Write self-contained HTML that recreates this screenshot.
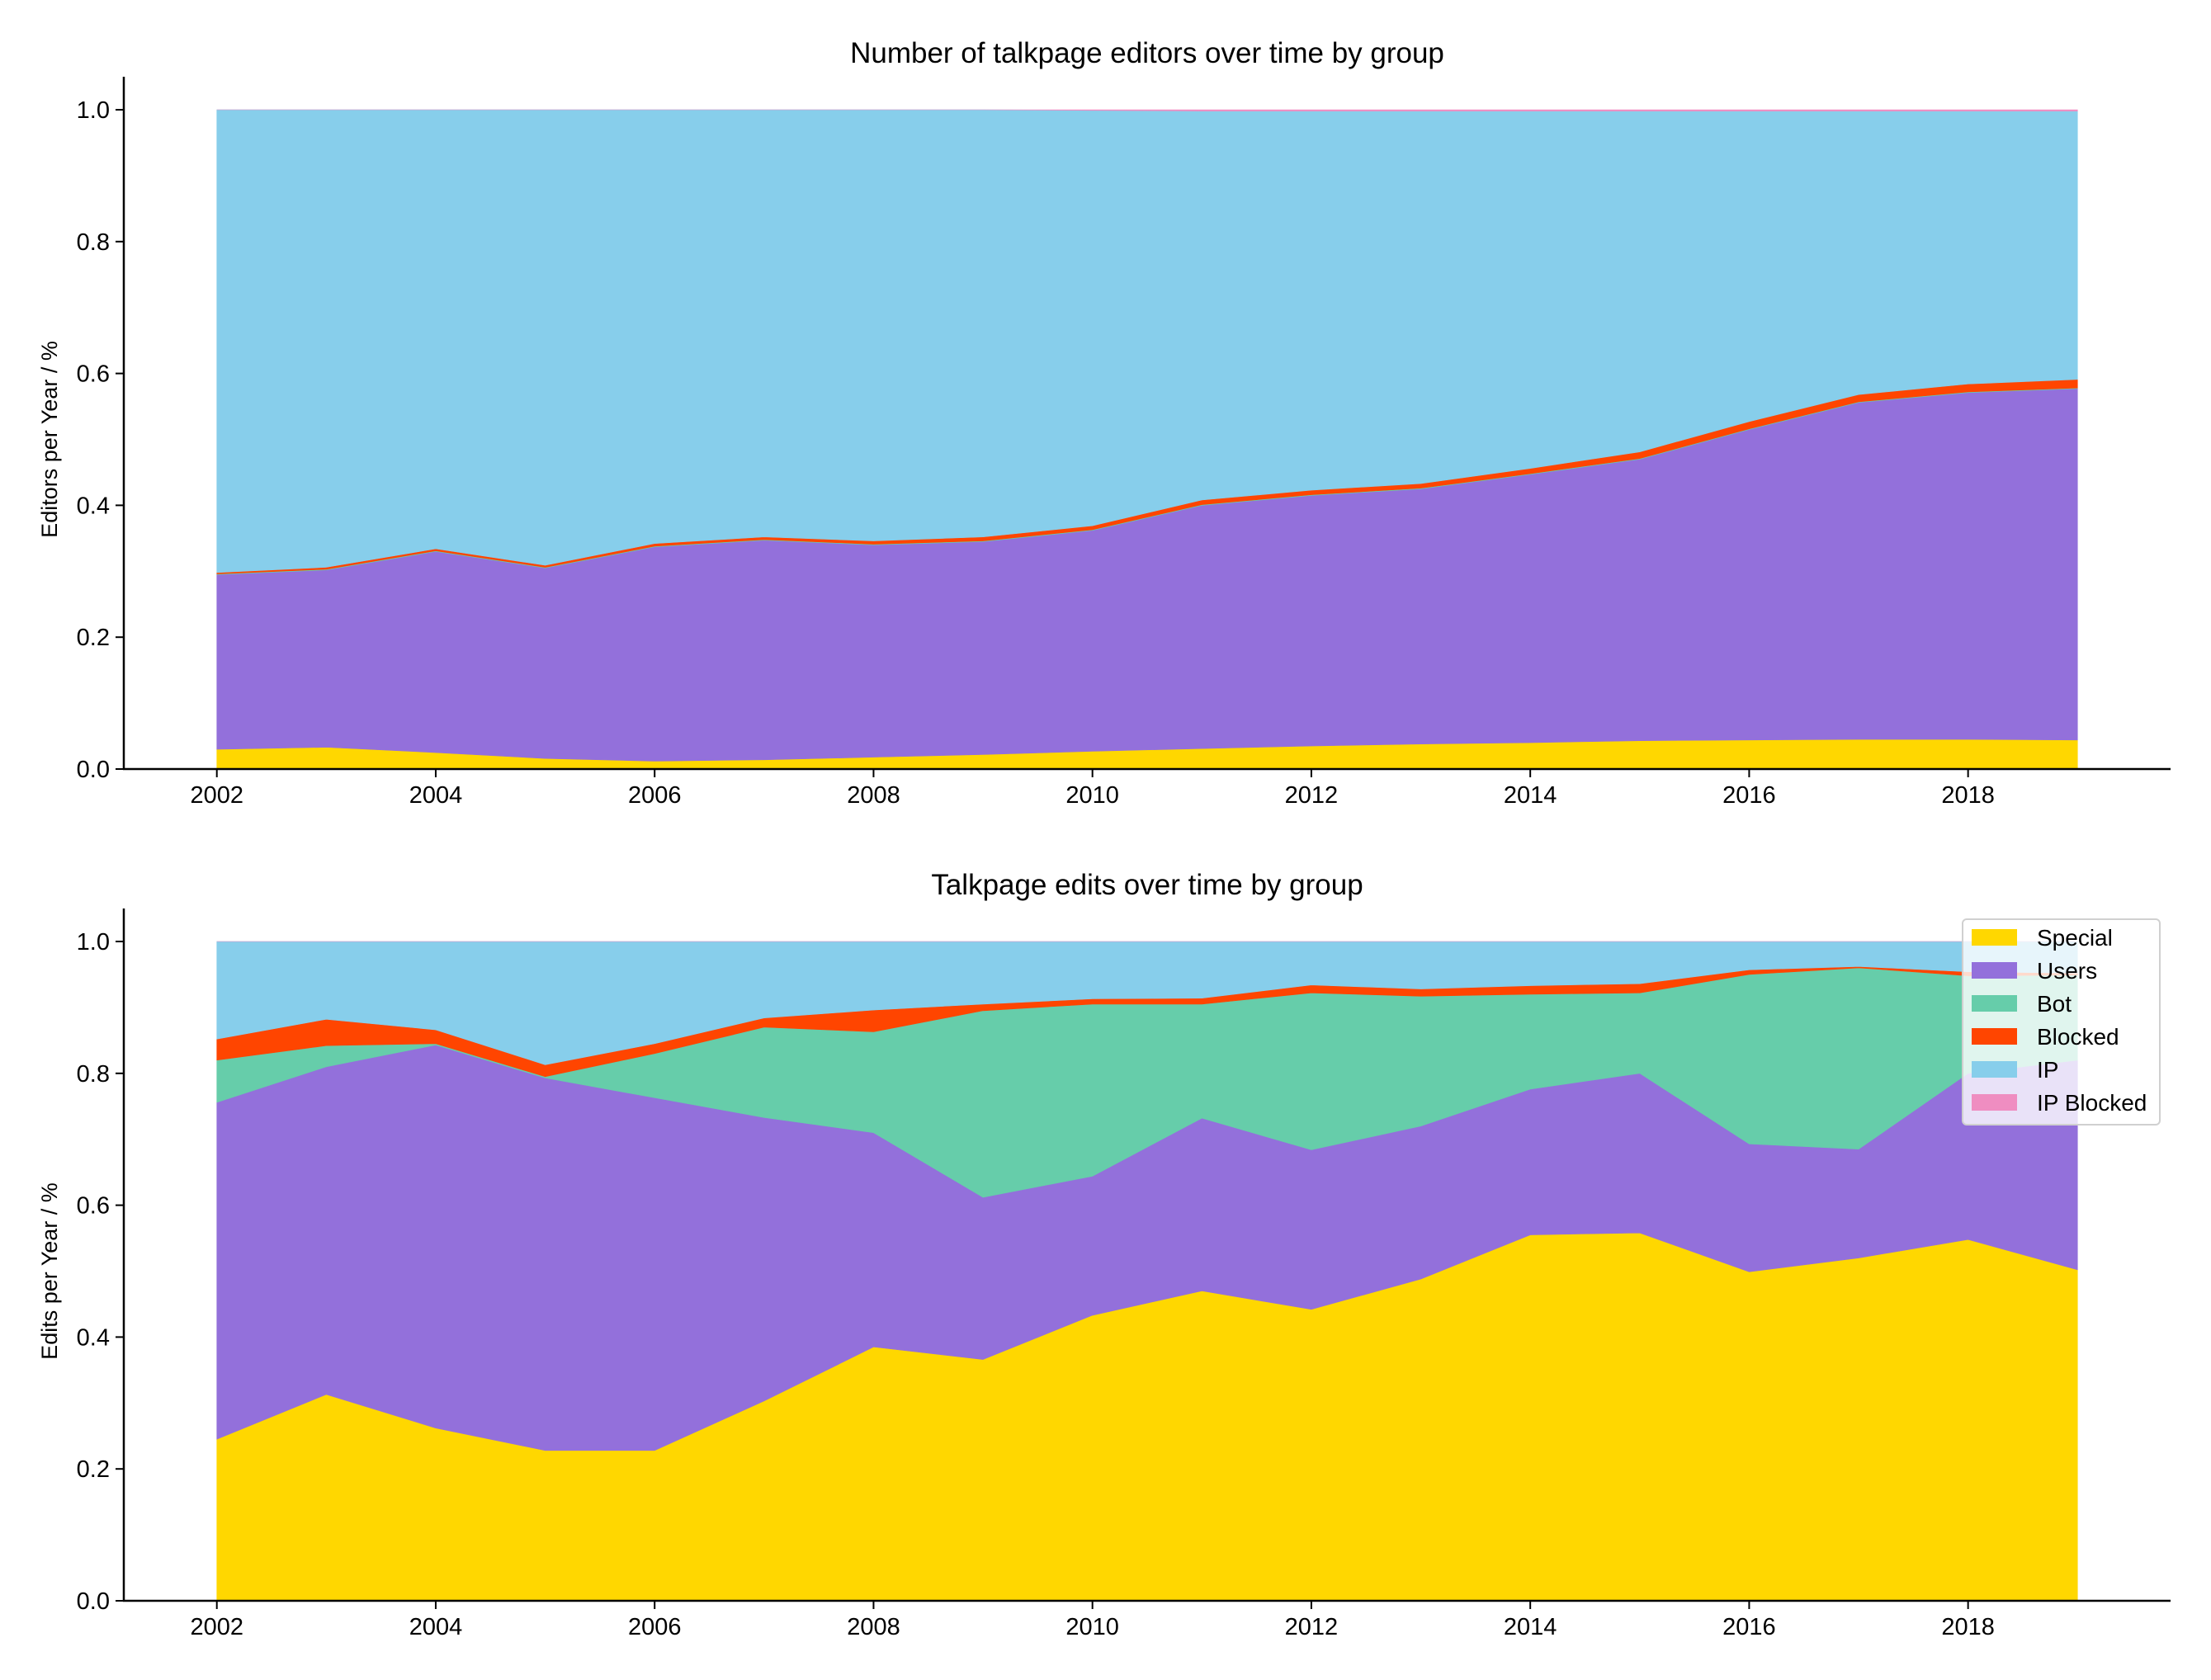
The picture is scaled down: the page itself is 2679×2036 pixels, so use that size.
<!DOCTYPE html>
<html><head><meta charset="utf-8"><style>
html,body{margin:0;padding:0;background:#fff;}
svg{display:block;font-family:"Liberation Sans",sans-serif;}
</style></head><body>
<svg id="chart" width="2679" height="2036" viewBox="0 0 2679 2036" xmlns="http://www.w3.org/2000/svg"></svg>
<script>
const years = [2002,2003,2004,2005,2006,2007,2008,2009,2010,2011,2012,2013,2014,2015,2016,2017,2018,2019];
const seriesNames = ["Special","Users","Bot","Blocked","IP","IP Blocked"];
const seriesColors = ["#FFD700","#9370DB","#66CDAA","#FF4500","#87CEEB","#EF8DC1"];
const yTicks = [0,0.2,0.4,0.6,0.8,1.0];
const xTicks = [2002,2004,2006,2008,2010,2012,2014,2016,2018];

// Top chart: editors share
const editorsSpecial = [.030,.033,.025,.016,.012,.014,.018,.022,.027,.031,.035,.038,.040,.043,.044,.045,.045,.044];
const editorsUsers = [.265,.269,.305,.289,.325,.333,.322,.323,.335,.369,.380,.387,.407,.427,.471,.511,.526,.533];
const editorsBot = [.001,.001,.001,.001,.001,.001,.001,.001,.001,.001,.001,.001,.001,.001,.001,.001,.001,.001];
const editorsBlocked = [.002,.003,.003,.003,.004,.004,.005,.006,.006,.007,.007,.007,.008,.010,.011,.011,.012,.013];
const editorsIP = [.702,.694,.666,.691,.658,.648,.654,.648,.630,.590,.575,.565,.542,.517,.471,.430,.414,.407];
const editorsIPBlocked = [0,0,0,0,0,0,0,0,.001,.002,.002,.002,.002,.002,.002,.002,.002,.002];

// Bottom chart: edits share
const editsSpecial = [.245,.313,.262,.228,.228,.303,.385,.366,.433,.470,.442,.488,.555,.558,.499,.520,.548,.502];
const editsUsers = [.511,.497,.581,.565,.535,.430,.325,.246,.211,.262,.242,.232,.221,.242,.194,.165,.252,.318];
const editsBot = [.064,.032,.002,.002,.067,.137,.153,.283,.261,.173,.238,.197,.144,.122,.257,.275,.148,.129];
const editsBlocked = [.032,.040,.021,.018,.015,.014,.033,.010,.008,.009,.012,.011,.013,.014,.007,.002,.006,.003];
const editsIP = [.148,.118,.134,.187,.155,.116,.104,.095,.087,.086,.066,.072,.067,.064,.043,.038,.046,.048];
const editsIPBlocked = [0,0,0,0,0,0,0,0,0,0,0,0,0,0,0,0,0,0];

const NS = "http://www.w3.org/2000/svg";
const svg = document.getElementById("chart");
function mk(tag, attrs, parent){
  const e = document.createElementNS(NS, tag);
  for (const k in attrs) e.setAttribute(k, attrs[k]);
  (parent||svg).appendChild(e);
  return e;
}
const X0 = 150, X1 = 2630, XMIN = 2001.15, XMAX = 2019.85;
function xs(v){ return X0 + (v - XMIN) / (XMAX - XMIN) * (X1 - X0); }

function drawPanel(cfg){
  const g = mk("g", {});
  
  
  const ys = v => cfg.y0 - v * 799;
  const cum = years.map(() => 0);
  cfg.series.forEach((arr, si) => {
    const lower = cum.slice();
    const upper = cum.map((c, i) => c + arr[i]);
    let d = "M" + years.map((yr, i) => xs(yr).toFixed(2) + "," + ys(upper[i]).toFixed(2)).join(" L");
    for (let i = years.length - 1; i >= 0; i--) d += " L" + xs(years[i]).toFixed(2) + "," + ys(lower[i]).toFixed(2);
    d += " Z";
    const p = mk("path", {d: d, fill: seriesColors[si], stroke: seriesColors[si], "stroke-width": 0.6}, g);
    
    
    for (let i = 0; i < cum.length; i++) cum[i] = upper[i];
  });
  const top = cfg.y0 - 1.05 * 799;
  const ls = mk("line", {x1: X0, y1: top, x2: X0, y2: cfg.y0, stroke: "#000", "stroke-width": 2.5}, g);
  
  
  const bs = mk("line", {x1: X0 - 1, y1: cfg.y0, x2: X1, y2: cfg.y0, stroke: "#000", "stroke-width": 2.5}, g);
  
  
  yTicks.forEach(t => {
    const y = ys(t);
    mk("line", {x1: X0 - 10, y1: y, x2: X0, y2: y, stroke: "#000", "stroke-width": 2}, g);
    const tx = mk("text", {x: X0 - 17, y: y + 10, "font-size": 29, "text-anchor": "end", fill: "#000"}, g);
    tx.textContent = t.toFixed(1);
    
    
  });
  xTicks.forEach(t => {
    const x = xs(t);
    mk("line", {x1: x, y1: cfg.y0, x2: x, y2: cfg.y0 + 10, stroke: "#000", "stroke-width": 2}, g);
    const tx = mk("text", {x: x, y: cfg.y0 + 41, "font-size": 29, "text-anchor": "middle", fill: "#000"}, g);
    tx.textContent = String(t);
    
    
  });
  const title = mk("text", {x: (X0 + X1) / 2, y: top - 17, "font-size": 35, "text-anchor": "middle", fill: "#000"}, g);
  title.textContent = cfg.title;
  
  
  const ym = cfg.y0 - 0.5 * 799;
  const yl = mk("text", {x: 69, y: ym, "font-size": 27, "text-anchor": "middle", fill: "#000", transform: "rotate(-90 69 " + ym + ")"}, g);
  yl.textContent = cfg.ylabel;
  
  
}

drawPanel({name: "editors-panel", y0: 932, title: "Number of talkpage editors over time by group", ylabel: "Editors per Year / %",
  series: [editorsSpecial, editorsUsers, editorsBot, editorsBlocked, editorsIP, editorsIPBlocked]});
drawPanel({name: "edits-panel", y0: 1940, title: "Talkpage edits over time by group", ylabel: "Edits per Year / %",
  series: [editsSpecial, editsUsers, editsBot, editsBlocked, editsIP, editsIPBlocked]});

const lg = mk("g", {});


mk("rect", {x: 2378, y: 1114, width: 239, height: 249, rx: 5, fill: "rgba(255,255,255,0.8)", stroke: "#d0d0d0", "stroke-width": 2}, lg);
seriesNames.forEach((n, i) => {
  const cy = 1136 + i * 40;
  const r = mk("rect", {x: 2389, y: cy - 10, width: 55, height: 20, fill: seriesColors[i]}, lg);
  
  
  const t = mk("text", {x: 2468, y: cy + 10, "font-size": 28, fill: "#000"}, lg);
  t.textContent = n;
  
  
});
</script>
</body></html>
